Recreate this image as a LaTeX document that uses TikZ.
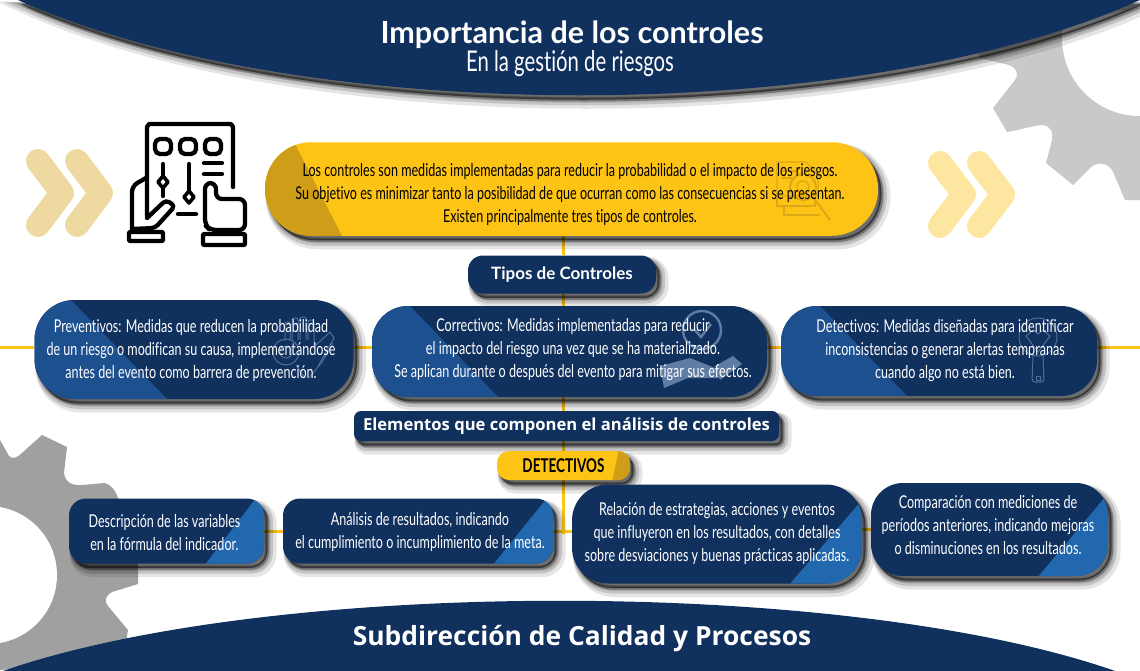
\documentclass[tikz,border=0pt]{standalone}
\usepackage{fontspec}
\setmainfont[Ligatures=NoCommon]{Lato}
\newfontfamily\narrowfont[FakeStretch=0.71,Ligatures=NoCommon]{Lato}
\newfontfamily\headfont{Open Sans}
\usetikzlibrary{backgrounds}
\definecolor{navy}{HTML}{10305E}
\definecolor{sunny}{HTML}{FDC315}
\definecolor{sunnydark}{HTML}{CF9D18}
\definecolor{blueleft}{HTML}{1D508F}
\definecolor{blueright}{HTML}{2268AE}
\definecolor{sandchevron}{HTML}{EED9A0}
\definecolor{paleChevron}{HTML}{FDE69F}
\definecolor{gearlight}{HTML}{C9C9C9}
\definecolor{geardark}{HTML}{A0A0A0}
\definecolor{markyellow}{HTML}{DCA818}
\definecolor{markblue}{HTML}{4F6E98}
\definecolor{markpale}{HTML}{5F7CA3}
% multi-line box text; #1 and #2 move it by half their value
\newcommand{\offsettext}[3]{\hspace*{#1}\raisebox{0pt}[\height][\dimexpr\depth+#2\relax]{\begin{tabular}{@{}c@{}}#3\end{tabular}}}
% box face: colour, corners, radius, accent colour and path, watermark
\newcommand{\boxface}[6]{%
  \fill[#1, softshadow, rounded corners=#3] #2;
  \begin{scope}
    \clip[rounded corners=#3] #2;
    \fill[#4] #5;
    #6
  \end{scope}
}
\tikzset{%
  % Specifications for style of nodes:
       shadowlayer/.style n args = {3}{preaction={draw=black, fill=black, line width=#1, opacity=#2,
                               transform canvas={xshift=#3, yshift=-#3-1pt}}},
        softshadow/.style = {shadowlayer={12pt}{.1}{6.5pt}, shadowlayer={8pt}{.15}{5pt},
                             shadowlayer={4pt}{.2}{3.5pt}, shadowlayer={1pt}{.3}{3pt}},
              base/.style = {rectangle, inner sep=0pt},
          navytext/.style = {base, text=white, font=\narrowfont\fontsize{17.7}{23}\selectfont},
        yellowtext/.style = {base, text=black, font=\narrowfont\fontsize{17.7}{23}\selectfont},
          heading/.style = {base, softshadow, fill=navy, text=white, font=\headfont\bfseries},
             link/.style = {draw=sunny, line width=3pt},
          chevron/.style = {line width=24pt, line cap=round, line join=round},
         iconline/.style = {draw=black, line width=4.3pt, line join=round, line cap=round},
        markyline/.style = {draw=markyellow, line width=1.3pt, fill=none},
        markbline/.style = {draw=markblue, line width=1pt, fill=none},
}
% watermarks, in page coordinates
\newcommand{\searchmark}{%
  \draw[markyline] (777,162) -- (806,162) -- (818,174) -- (818,196) -- (777,196) -- cycle;
  \draw[markyline] (777,196) -- (777,206) -- (815,206) -- (815,198);
  \draw[markyline] (784,206) -- (784,215) -- (820,215);
  \draw[markyline] (782,171) -- (797,171) (782,178) -- (792,178);
  \draw[markyline, line width=2pt] (803,187) circle (13);
  \draw[markyline] (803,187) circle (6);
  \draw[markyline, line width=2pt] (813,197) -- (830,220);
}
\newcommand{\handmark}{%
  \draw[markbline] (333,343) -- (322,362) -- (309,378);
  \draw[markbline, rounded corners=2pt] (285,341) -- (285,322) -- (290,322) -- (290,340)
        (292,340) -- (292,318) -- (298,318) -- (298,340)
        (300,340) -- (300,317) -- (306,317) -- (306,340)
        (308,340) -- (308,320) -- (314,320) -- (314,345);
  \draw[markbline] (286,352) circle (13) (286,352) circle (6);
  \draw[markbline] (316,345) -- (330,332) -- (334,338) -- (318,366);
  \draw[markbline] (296,365) -- (305,378);
}
\newcommand{\lensmark}{%
  \draw[draw=markpale, line width=2.4pt, fill=none] (702,330) circle (19);
  \draw[draw=markpale, line width=2.4pt, fill=none] (695,330) -- (701,337) -- (711,324);
  \fill[markpale] (660,366) -- (690,358) -- (715,368) -- (722,378) -- (688,378) -- (664,388) -- cycle;
  \fill[markpale] (715,366) -- (733,356) -- (742,364) -- (720,380) -- cycle;
}
\newcommand{\mirrormark}{%
  \draw[markbline] (1038,337) circle (19);
  \draw[markbline] (1026,336) -- (1033,330) -- (1038,334) -- (1043,330) -- (1050,336) -- (1038,352) -- cycle;
  \draw[markbline, rounded corners=3pt] (1033,356) -- (1032,382) -- (1044,382) -- (1043,356);
  \draw[markbline] (1036,376) rectangle (1040,380);
}
\begin{document}
\begin{tikzpicture}[x=1pt, y=-1pt]
  \useasboundingbox (0,0) rectangle (1140,670);

  % Gears behind everything
  \fill[gearlight] (979,0) -- (979,58) -- (1009,65) .. controls (1017,68) and (1019,74) .. (1015,80)
    -- (993,108) -- (1007,132) .. controls (1020,130) and (1035,125) .. (1043,125)
    .. controls (1052,127) and (1053,133) .. (1052,140) -- (1046,163) -- (1073,185)
    -- (1091,167) .. controls (1100,160) and (1110,165) .. (1113,172) -- (1125,200) -- (1140,200) -- (1140,0) -- cycle;
  \fill[white] (1140,38) circle (78);
  \fill[geardark] (0,440) -- (9,456) .. controls (13,460) and (18,457) .. (22,453) -- (42,435) -- (67,447)
    -- (64,473) .. controls (65,482) and (72,486) .. (82,485) -- (105,483) .. controls (112,485) and (116,492) .. (118,498)
    -- (138,520) -- (138,584) -- (112,592) .. controls (105,596) and (104,601) .. (108,606) -- (128,630)
    -- (123,660) -- (0,670) -- cycle;
  \fill[white] (-12,575) circle (69);

  % Chevrons either side of the intro box
  \foreach \dx in {0,39} {
    \draw[chevron, sandchevron, shift={(\dx,0)}] (38,161) -- (62,193) -- (38,225);
    \draw[chevron, paleChevron, shift={(\dx,0)}] (940,163) -- (964,194.5) -- (940,226);
  }

  % Top and bottom bands
  \fill[navy, softshadow] (18,0) .. controls (300,127) and (860,127) .. (1140,0) -- cycle;
  \fill[navy] (0,672) .. controls (270,577) and (850,577) .. (1118,672) -- cycle;
  \node (title) [text=white, inner sep=0pt, font=\bfseries\fontsize{30.5}{34}\selectfont] at (572,35) {Importancia de los controles};
  \node (subtitle) [text=white, inner sep=0pt, font=\narrowfont\fontsize{28.6}{30}\selectfont] at (570,64) {En la gestión de riesgos};
  \node (footer) [text=white, inner sep=0pt, font=\headfont\bfseries\fontsize{26.4}{28}\selectfont] at (582,639) {Subdirección de Calidad y Procesos};

  % Panel icon
  \draw[iconline] (147,216) -- (147,127) -- (149,124) -- (231,124) -- (233,127) -- (233,187);
  \foreach \cx in {163,188,213} {
    \draw[iconline, rounded corners=5pt] (\cx-8,139) rectangle (\cx+8,154);
  }
  \draw[iconline] (163,164) -- (163,176) (163,188) -- (163,196);
  \draw[iconline, line width=3.6pt] (163,176) -- (168,182) -- (163,188) -- (158,182) -- cycle;
  \draw[iconline] (189,164) -- (189,191);
  \draw[iconline, line width=3.6pt] (189,191) -- (194,197) -- (189,203) -- (184,197) -- cycle;
  \draw[iconline] (204,163) -- (222,163) (204,174) -- (222,174) (178,214) -- (196,214);
  \draw[iconline, rounded corners=6pt] (210,230) -- (205,225) -- (205,183) -- (216,183) -- (216,199) -- (245,199) -- (245,230) -- cycle;
  \draw[iconline, rounded corners=1pt] (203,234) rectangle (245,245);
  \draw[iconline, rounded corners=6pt] (132,229) -- (132,186) -- (146,178);
  \draw[iconline, rounded corners=4pt] (147,218) -- (166,200) -- (175,206) -- (155,228) -- (132,229);
  \draw[iconline, rounded corners=1pt] (129,232) rectangle (163,241);

  % Specification of nodes (position, etc.)
  \boxface{sunny}{(265,142.25) rectangle (878,235.75)}{46pt}{sunnydark}{(260,140) -- (293,140) -- (343,238) -- (260,238) -- cycle}{\searchmark}
  \node (intro) [yellowtext, minimum width=613pt, minimum height=93.5pt] at (571.5,189)
      {\offsettext{-3pt}{-12pt}{Los controles son medidas implementadas para reducir la probabilidad o el impacto de los riesgos.\\
       Su objetivo es minimizar tanto la posibilidad de que ocurran como las consecuencias si se presentan.\\
       Existen principalmente tres tipos de controles.}};
  \node (tipos) [heading, minimum width=188pt, minimum height=38pt, rounded corners=15pt,
      font=\bfseries\fontsize{17}{20}\selectfont] at (562,274.5) {Tipos de Controles};

  \boxface{navy}{(34.5,300) rectangle (353.5,399)}{40pt}{blueleft}{(30,298) -- (69,298) -- (169,401) -- (30,401) -- cycle}{\handmark}
  \node (preventivos) [navytext, minimum width=319pt, minimum height=99pt] at (194,349.5)
      {\offsettext{-6pt}{-2pt}{Preventivos: Medidas que reducen la probabilidad\\
       de un riesgo o modifican su causa, implementándose\\
       antes del evento como barrera de prevención.}};
  \boxface{navy}{(372,306) rectangle (767,397)}{36pt}{blueleft}{(368,304) -- (408,304) -- (500,399) -- (368,399) -- cycle}{\lensmark}
  \node (correctivos) [navytext, minimum width=395pt, minimum height=91pt] at (569.5,351.5)
      {\offsettext{7pt}{3pt}{Correctivos: Medidas implementadas para reducir\\
       el impacto del riesgo una vez que se ha materializado.\\
       Se aplican durante o después del evento para mitigar sus efectos.}};
  \boxface{navy}{(781,306) rectangle (1097,396)}{36pt}{blueleft}{(778,304) -- (818,304) -- (909,398) -- (778,398) -- cycle}{\mirrormark}
  \node (detectivos) [navytext, minimum width=316pt, minimum height=90pt] at (939,351)
      {\offsettext{12pt}{0pt}{Detectivos: Medidas diseñadas para identificar\\
       inconsistencias o generar alertas tempranas\\
       cuando algo no está bien.}};

  \node (elementos) [heading, minimum width=425pt, minimum height=30pt, rounded corners=7pt,
      font=\headfont\bfseries\fontsize{16.6}{20}\selectfont] at (566.5,426) {Elementos que componen el análisis de controles};
  \boxface{sunny}{(497,451) rectangle (630,480)}{12pt}{sunnydark}{(619,449) -- (634,449) -- (634,482) -- (612,482) -- cycle}{}
  \node (etiqueta) [yellowtext, minimum width=133pt, minimum height=29pt,
      font=\bfseries\narrowfont\fontsize{19}{20}\selectfont] at (563.5,465.5) {DETECTIVOS};

  \boxface{navy}{(69,498.5) rectangle (264,563.5)}{17pt}{blueright}{(204,566) -- (256,498) -- (268,498) -- (268,566) -- cycle}{}
  \node (descripcion) [navytext, minimum width=195pt, minimum height=65pt] at (166.5,531)
      {\offsettext{-4pt}{-6pt}{Descripción de las variables\\ en la fórmula del indicador.}};
  \boxface{navy}{(283,498.5) rectangle (553,563.5)}{17pt}{blueright}{(492,566) -- (547,498) -- (556,498) -- (556,566) -- cycle}{}
  \node (analisis) [navytext, minimum width=270pt, minimum height=65pt] at (418,531)
      {\offsettext{4pt}{-2pt}{Análisis de resultados, indicando\\ el cumplimiento o incumplimiento de la meta.}};
  \boxface{navy}{(572,484.5) rectangle (862,583.5)}{36pt}{blueright}{(788,586) -- (862,500) -- (866,500) -- (866,586) -- cycle}{}
  \node (relacion) [navytext, minimum width=290pt, minimum height=99pt] at (717,534)
      {\offsettext{0pt}{0pt}{Relación de estrategias, acciones y eventos\\
       que influyeron en los resultados, con detalles\\
       sobre desviaciones y buenas prácticas aplicadas.}};
  \boxface{navy}{(871,483) rectangle (1108,576)}{32pt}{blueright}{(1037,578) -- (1106,496) -- (1110,496) -- (1110,578) -- cycle}{}
  \node (comparacion) [navytext, minimum width=237pt, minimum height=93pt] at (989.5,529.5)
      {\offsettext{-3pt}{5pt}{Comparación con mediciones de\\
       períodos anteriores, indicando mejoras\\
       o disminuciones en los resultados.}};

  % Specification of lines between nodes specified above
  \coordinate (axis) at (563,0);
  \coordinate (leftedge) at (0,347);
  \coordinate (rightedge) at (1140,347);
  \begin{scope}[on background layer]
    \draw[link] (intro.south -| axis) -- (tipos.north -| axis);
    \draw[link] (tipos.south -| axis) -- (correctivos.north -| axis);
    \draw[link] (correctivos.south -| axis) -- (elementos.north -| axis);
    \draw[link] (elementos.south -| axis) -- (etiqueta.north -| axis);
    \draw[link] (etiqueta.south -| axis) -- (axis |- relacion.west);
    \draw[link] (leftedge) -- (preventivos.west |- leftedge);
    \draw[link] (preventivos.east |- leftedge) -- (correctivos.west |- leftedge);
    \draw[link] (correctivos.east |- leftedge) -- (detectivos.west |- leftedge);
    \draw[link] (detectivos.east |- leftedge) -- (rightedge);
    \draw[link] (descripcion.east) -- (analisis.west);
    \draw[link] (analisis.east) -- (relacion.west |- analisis.east);
    \draw[link] (relacion.east |- comparacion.west) -- (comparacion.west);
  \end{scope}
\end{tikzpicture}
\end{document}
